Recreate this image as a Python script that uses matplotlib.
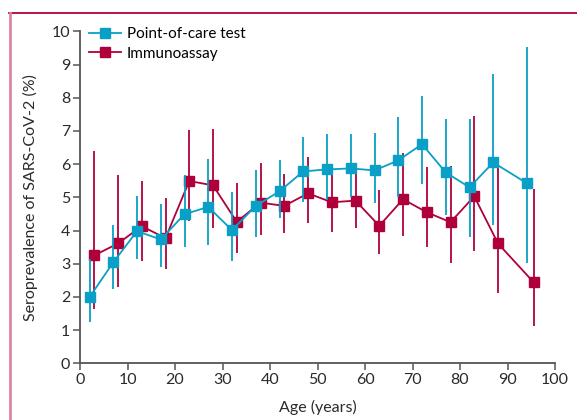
import matplotlib
matplotlib.use("Agg")
import matplotlib.pyplot as plt
from matplotlib.lines import Line2D

plt.rcParams['font.family'] = ['Lato', 'DejaVu Sans']

# Point-of-care test
poc_age = [2, 7, 12, 17, 22, 27, 32, 37, 42, 47, 52, 57, 62, 67, 72, 77, 82, 87, 94]
poc_val = [1.99, 3.04, 3.98, 3.73, 4.49, 4.71, 4.01, 4.74, 5.18, 5.78, 5.84, 5.87, 5.81, 6.11, 6.60, 5.75, 5.30, 6.05, 5.43]
poc_lo = [1.24, 2.24, 3.13, 2.91, 3.51, 3.56, 3.09, 3.81, 4.37, 4.87, 4.92, 5.00, 4.84, 5.02, 5.39, 4.47, 3.80, 4.17, 3.03]
poc_hi = [3.15, 4.17, 5.05, 4.80, 5.67, 6.15, 5.15, 5.82, 6.11, 6.83, 6.91, 6.90, 6.94, 7.41, 8.06, 7.36, 7.36, 8.72, 9.53]

# Immunoassay
ia_age = [3, 8, 13, 18, 23, 28, 33, 38, 43, 48, 53, 58, 63, 68, 73, 78, 83, 88, 95.5]
ia_val = [3.25, 3.61, 4.13, 3.77, 5.49, 5.36, 4.26, 4.84, 4.74, 5.12, 4.85, 4.90, 4.14, 4.94, 4.55, 4.25, 5.03, 3.61, 2.44]
ia_lo = [1.63, 2.29, 3.08, 2.83, 4.30, 4.08, 3.33, 3.86, 3.93, 4.22, 3.95, 4.07, 3.28, 3.84, 3.50, 3.01, 3.39, 2.11, 1.12]
ia_hi = [6.39, 5.67, 5.49, 4.99, 7.03, 7.06, 5.44, 6.02, 5.69, 6.21, 5.95, 5.90, 5.21, 6.33, 5.91, 5.94, 7.44, 6.12, 5.26]

x_ticks = [0, 10, 20, 30, 40, 50, 60, 70, 80, 90, 100]
y_ticks = [0, 1, 2, 3, 4, 5, 6, 7, 8, 9, 10]

BLUE = '#0a9fc6'
RED = '#b0003a'
AXC = '#555555'
TXT = '#2a2a2a'

fig = plt.figure(figsize=(5.77, 4.20), dpi=100)
ax = fig.add_axes([80 / 577, (420 - 363.3) / 420, 475 / 577, 332 / 420])

def draw(age, val, lo, hi, color, z, label):
    yerr = [[v - l for v, l in zip(val, lo)], [h - v for v, h in zip(val, hi)]]
    ax.errorbar(age, val, yerr=yerr, fmt='none', ecolor=color, elinewidth=1.3,
                capsize=0, zorder=z, clip_on=False)
    ax.plot(age, val, color=color, lw=1.3, marker='s', ms=6.5, mec=color, mfc=color,
            zorder=z + 0.5, clip_on=False, label=label)

draw(ia_age, ia_val, ia_lo, ia_hi, RED, 3, 'Immunoassay')
draw(poc_age, poc_val, poc_lo, poc_hi, BLUE, 4, 'Point-of-care test')

ax.set_xlim(0, 100)
ax.set_ylim(0, 10)
ax.set_xticks(x_ticks)
ax.set_yticks(y_ticks)
for s in ['top', 'right']:
    ax.spines[s].set_visible(False)
for s in ['left', 'bottom']:
    ax.spines[s].set_color(AXC)
    ax.spines[s].set_linewidth(1.3)
ax.tick_params(axis='both', direction='out', length=5, width=1.1, color=AXC,
               labelsize=11.5, labelcolor=TXT, pad=2)
ax.set_xlabel('Age (years)', fontsize=11.5, color=TXT, labelpad=9)
ax.set_ylabel('Seroprevalence of SARS-CoV-2 (%)', fontsize=11.5, color=TXT, labelpad=10)

handles = [Line2D([], [], color=BLUE, lw=1.3, marker='s', ms=6.5),
           Line2D([], [], color=RED, lw=1.3, marker='s', ms=6.5)]
ax.legend(handles, ['Point-of-care test', 'Immunoassay'], loc='upper left',
          bbox_to_anchor=(0.0, 1.04), frameon=False, fontsize=11,
          handlelength=2.1, handletextpad=0.35, labelspacing=0.35, borderaxespad=0.2)

# decorative frame
fig.add_artist(Line2D([9 / 577, 1.0], [1 - 13 / 420, 1 - 13 / 420], color=RED, lw=1.3,
                      transform=fig.transFigure))
fig.add_artist(Line2D([9.5 / 577, 9.5 / 577], [0, 1 - 13 / 420], color='#dc85a3', lw=2.0,
                      transform=fig.transFigure))

fig.savefig('out.png', dpi=100)
